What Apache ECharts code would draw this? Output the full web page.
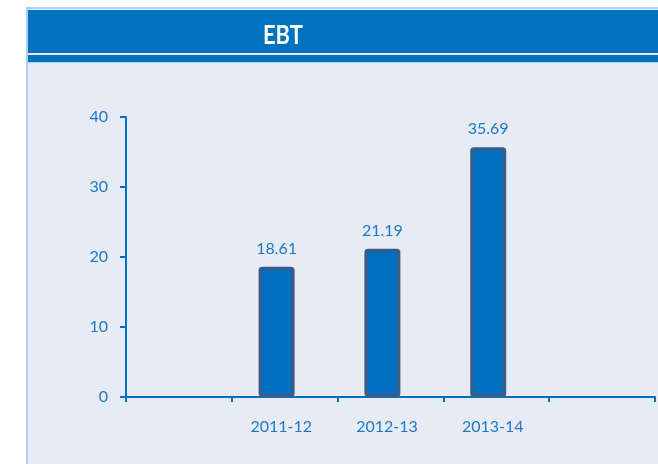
<!DOCTYPE html>
<html>
<head>
<meta charset="utf-8">
<style>
html,body{margin:0;padding:0;background:#ffffff;}
#c{width:658px;height:464px;}
</style>
<script src="https://cdn.jsdelivr.net/npm/echarts@6/dist/echarts.min.js"></script>
</head>
<body>
<div id="c"></div>
<script>
var categories = ['', '2011-12', '2012-13', '2013-14', ''];
var ebtValues = [null, 18.61, 21.19, 35.69, null];
var spacerValues = [null, null, null, null, null];
var yTicks = [0, 10, 20, 30, 40];

var chart = echarts.init(document.getElementById('c'), null, {renderer: 'canvas'});
var axisBlue = '#0070C0';
var textBlue = '#1F78C1';
var fontFam = 'Lato, "Open Sans", sans-serif';
chart.setOption({
  animation: false,
  backgroundColor: '#ffffff',
  graphic: [
    {type: 'rect', z: -10, shape: {x: 27, y: 8, width: 640, height: 470}, style: {fill: '#E6EBF5', stroke: '#A9D1F2', lineWidth: 2}},
    {type: 'rect', z: -9, shape: {x: 28, y: 10, width: 640, height: 43}, style: {fill: '#0072C0'}},
    {type: 'rect', z: -9, shape: {x: 28, y: 55, width: 640, height: 7}, style: {fill: '#0072C0'}},
    {type: 'rect', z: -9, shape: {x: 28, y: 62, width: 640, height: 1}, style: {fill: '#B5D6F0'}},
    {type: 'text', z: 10, x: 283, y: 36, scaleX: 0.84, style: {text: 'EBT', fill: '#ffffff', font: 'bold 26px Lato, sans-serif', align: 'center', verticalAlign: 'middle'}}
  ],
  grid: {left: 126, right: 3, top: 117, bottom: 67, containLabel: false},
  xAxis: {
    type: 'category',
    data: categories,
    boundaryGap: true,
    axisLine: {lineStyle: {color: axisBlue, width: 2}},
    axisTick: {show: true, length: 5, lineStyle: {color: axisBlue, width: 2}},
    axisLabel: {color: textBlue, fontSize: 16, fontFamily: fontFam, margin: 22, padding: [0, 7, 0, 0]},
    splitLine: {show: false}
  },
  yAxis: {
    type: 'value',
    min: yTicks[0],
    max: yTicks[yTicks.length - 1],
    interval: 10,
    axisLine: {show: true, lineStyle: {color: axisBlue, width: 2}},
    axisTick: {show: true, length: 6, lineStyle: {color: axisBlue, width: 2}},
    axisLabel: {color: textBlue, fontSize: 16, fontFamily: fontFam, margin: 18},
    splitLine: {show: false}
  },
  series: [
    {
      type: 'bar',
      name: 'EBT',
      data: ebtValues,
      barWidth: 36,
      barGap: '-55%',
      itemStyle: {color: '#0070C0', borderColor: '#3A5C8B', borderWidth: 3.5, borderRadius: 2},
      label: {show: true, position: 'top', distance: 10, color: textBlue, fontSize: 16, fontFamily: fontFam}
    },
    {
      type: 'bar',
      name: 'spacer',
      data: spacerValues,
      barWidth: 36,
      itemStyle: {color: 'transparent'}
    }
  ]
});
</script>
</body>
</html>
